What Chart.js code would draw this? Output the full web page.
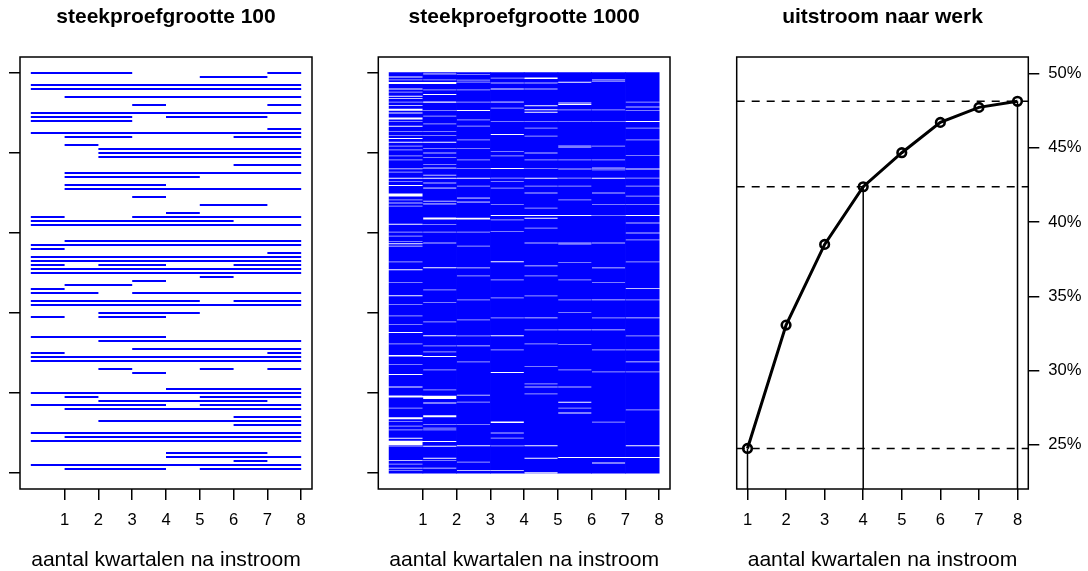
<!DOCTYPE html>
<html><head><meta charset="utf-8">
<script src="https://cdn.jsdelivr.net/npm/chart.js@4.4.1/dist/chart.umd.min.js"></script>
<style>
body{margin:0;background:#fff}
#wrap{position:relative;width:1088px;height:571px;background:#fff}
canvas{position:absolute;left:0;top:0}
</style></head>
<body><div id="wrap">
<canvas id="c1" width="1088" height="571"></canvas>
<canvas id="c2" width="1088" height="571"></canvas>
<canvas id="c3" width="1088" height="571"></canvas>
</div>
<script>
// ---------------- DATA ----------------
const quarters = [1,2,3,4,5,6,7,8];
const xTitle = 'aantal kwartalen na instroom';
const titles = ['steekproefgrootte 100','steekproefgrootte 1000','uitstroom naar werk'];
const rowTicks100 = [0,20,40,60,80,100];
const rowTicks1000 = [0,200,400,600,800,1000];
const pctTicks = [25,30,35,40,45,50];

// panel 1: 100 sampled persons, row 1 (bottom) .. row 100 (top); '1' = at work in that quarter
const sample100 = [
 "01110111","11111111","00000010","00001111","00001110","00000000","00000000","11111111","01111111","11111111",
 "00000000","00000011","00111111","00000011","00000000","01111111","11110111","00111110","01000111","11111111",
 "00001111","00000000","00000000","00000000","00010000","00100101","00000000","11111111","11111111","10000001",
 "00011111","00000000","00111111","11110000","00000000","00000000","00000000","00000000","10110000","00111000",
 "00000000","11111111","11111011","00000000","11011111","10000000","01100000","00010000","00000100","11111111",
 "11111111","10110011","11111111","11111111","00000001","10000000","11111111","01111111","00000000","00000000",
 "00000000","11111111","11111100","10011111","00001000","00000000","00000110","00000000","00010000","00000000",
 "01111111","01110000","00000000","01111000","01111111","00000000","00000011","00000000","00111111","00111111",
 "00111111","01000000","00000000","01100011","11111111","00000001","00000000","11100000","11101110","11111111",
 "00000000","00010001","00000000","01111111","00000000","11111111","11111111","00000000","00000110","11100001"
];

// panel 2: 1000 persons (too dense to read row by row); per quarter the visible
// empty stretches (white) and thinly covered stretches (light) as [centre row, rows]
const whiteQ1 = [[990,2.5],[975,5],[960,2.5],[942,2.5],[936,2],[919,2],[908,5],[900,2.5],[886,5],[867,2.5],[836,2.5],[827,2.5],
  [737,2.5],[719,2.5],[695,7],[622,2.5],[573,2.5],[567,2],[508,2.5],[443,2.5],[351,2.5],[293,4],[246,2.5],
  [215,2.5],[191,5],[137,5],[87,2.5],[75,11],[31,2],[12,2]];
const lightQ1 = [[983,2],[952,2],[927,2],[879,2],[854,2],[844,2],[817,2],[808,2],[793,2],[783,2],[761,3],[752,2],[729,2],
  [683,2],[675,2],[667,2],[602,2],[592,2],[579,2],[528,2],[476,2],[421,2],[393,2],[371,2],[323,2],[271,2],
  [162,2],[129,2],[117,2],[108,2],[67,2],[22,2],[6,2]];
const whiteQ2 = [[975,5],[946,2.5],[927,3],[827,2.5],[737,2.5],[636,5],[513,2.5],[343,2.5],[291,2.5],
  [189,8],[175,2.5],[142,5],[79,2.5],[67,2.5],[37,2.5],[12,2]];
const lightQ2 = [[998,3],[983,2],[958,2],[906,2],[892,2],[873,2],[854,2],[844,2],[811,2],[800,2],[789,2],[771,2],[762,3],
  [744,3],[725,2],[712,3],[679,3],[673,3],[621,2],[602,2],[575,2],[458,2],[426,2],[378,2],[318,2],[303,2],[258,2],
  [208,2],[121,2],[112,2],[108,2],[31,2]];
const whiteQ3 = [[906,2.5],[737,2.5],[636,4],[513,2],[318,2],[68,2.5],[6,2]];
const lightQ3 = [[996,2],[982,2],[977,2],[958,2],[927,2],[883,2],[867,2],[833,2],[811,2],[783,2],[761,2],[717,2],[687,3],
  [677,3],[602,2],[567,2],[493,2],[433,2],[383,2],[343,2],[278,2],[194,3],[177,2],[121,2],[27,2]];
const whiteQ4 = [[960,2.5],[846,2.5],[761,2.5],[644,2.5],[528,2.5],[343,2.5],[251,2.5],[127,4],[6,2]];
const lightQ4 = [[987,2],[975,2],[927,3],[912,2],[879,2],[804,2],[793,2],[737,2],[729,2],[712,2],[671,2],[633,2],[604,2],
  [483,2],[438,2],[388,2],[308,2],[100,2],[87,2],[68,2]];
const whiteQ5 = [[987,4],[918,2.5],[908,2.5],[902,2.5],[737,2.5],[644,2.5],[637,2.5],[518,2],[388,2],[68,2.5],[37,2.5]];
const lightQ5 = [[975,2],[960,2],[879,2],[862,2],[842,2],[800,2],[783,2],[761,2],[717,2],[700,2],[662,2],[612,2],[575,2],
  [493,2],[443,2],[358,2],[323,2],[266,2],[223,2],[215,2],[198,2],[1,2]];
const whiteQ6 = [[977,2.5],[925,3],[921,2.5],[644,2.5],[358,2],[177,2.5],[150,2.5],[39,2.5]];
const lightQ6 = [[908,2],[879,2],[817,3],[814,2],[783,2],[760,2],[737,2],[717,2],[683,2],[575,3],[572,2],
  [526,2],[483,2],[433,2],[401,2],[321,2],[258,2],[215,2],[162,2]];
const whiteQ7 = [[737,2.5],[513,2],[433,2],[358,2],[39,2.5],[25,2.5]];
const lightQ7 = [[983,3],[979,2],[908,2],[879,2],[817,2],[783,2],[762,3],[758,2],[700,2],[671,2],[644,2],[575,3],
  [476,2],[388,2],[308,2],[253,2],[127,2]];
const whiteQ8 = [[879,2.5],[760,3],[644,2.5],[461,2],[388,2],[278,2],[68,2.5],[39,2.5]];
const lightQ8 = [[927,2],[915,2],[906,2],[862,2],[833,2],[794,2],[737,2],[717,2],[692,2],[671,2],[625,2],[600,2],[583,2],
  [528,2],[433,2],[343,2],[308,2],[253,2],[158,2]];
const white1000 = [whiteQ1,whiteQ2,whiteQ3,whiteQ4,whiteQ5,whiteQ6,whiteQ7,whiteQ8];
const light1000 = [lightQ1,lightQ2,lightQ3,lightQ4,lightQ5,lightQ6,lightQ7,lightQ8];
const rowsFirst = -1, rowsLast = 1002;

// panel 3: share that has flowed out to work (%) by quarter
const uitstroom = [24.76, 33.06, 38.49, 42.37, 44.66, 46.70, 47.71, 48.12];
const markedQuarters = [1, 4, 8];

// ---------------- STYLE ----------------
Chart.defaults.font.family = "'Liberation Sans', Arial, Helvetica, sans-serif";
Chart.defaults.color = '#000';
const BLUE = '#0000ff', LIGHTBLUE = '#8a8aff';
const TICK_FONT = {size:16.6};
const XT_FONT = {size:21.1, lineHeight:1};
const TITLE_FONT = {size:21, weight:'bold'};

const boxPlugin = {id:'box', afterDatasetsDraw(chart){
  const {ctx, chartArea:a} = chart;
  ctx.save(); ctx.strokeStyle='#000'; ctx.lineWidth=1.5;
  ctx.strokeRect(a.left, a.top, a.right-a.left, a.bottom-a.top); ctx.restore();
}};

function tickGrid(){ return {drawOnChartArea:false, drawTicks:true, tickLength:11, color:'#000', lineWidth:1.5, offset:false}; }
function setTicks(vals){ return s => { s.ticks = vals.map(v => ({value:v})); }; }

function xAxis(min, max){
  return {type:'linear', min, max, offset:false, afterBuildTicks:setTicks(quarters), afterFit:s=>{s.height=82;},
    grid:tickGrid(), border:{display:false},
    ticks:{font:TICK_FONT, padding:10.2, maxRotation:0, autoSkip:false},
    title:{display:true, text:xTitle, font:XT_FONT, padding:{top:0,bottom:0.6}}};
}
function titleOpt(t){ return {display:true, text:t, fullSize:false, font:TITLE_FONT, padding:{top:4.9,bottom:26.9}}; }
const basePlugins = t => ({legend:{display:false}, tooltip:{enabled:false}, title:titleOpt(t)});

// ---------------- PANEL 1 ----------------
const seg100 = [];
sample100.forEach((s, i) => {
  const row = i + 1;
  let q = 0;
  while (q < s.length) {
    if (s[q] === '1') {
      let e = q; while (e < s.length && s[e] === '1') e++;
      seg100.push({x:q, y:row}, {x:e, y:row}, {x:e, y:null});
      q = e;
    } else q++;
  }
});
new Chart(document.getElementById('c1'), {
  type:'scatter',
  data:{datasets:[{data:seg100, showLine:true, spanGaps:false, borderColor:BLUE, borderWidth:2, pointRadius:0}]},
  options:{responsive:false, animation:false, events:[],
    layout:{padding:{left:9, right:776, top:0, bottom:0}},
    plugins:basePlugins(titles[0]),
    scales:{x:xAxis(-0.32, 8.32),
      y:{type:'linear', min:-4, max:104, afterBuildTicks:setTicks(rowTicks100), afterFit:s=>{s.width=11;},
         grid:tickGrid(), border:{display:false}, ticks:{display:false}}}},
  plugins:[boxPlugin]
});

// ---------------- PANEL 2 ----------------
const bars1000 = [], lightBars = [];
quarters.forEach((q, qi) => {
  const x = q - 0.5;
  const all = white1000[qi].concat(light1000[qi]).map(([c,h]) => [c - h/2, c + h/2]).sort((a,b) => a[0]-b[0]);
  let lo = rowsFirst;
  all.forEach(([a,b]) => { if (a > lo) bars1000.push({x, y:[lo,a]}); lo = Math.max(lo,b); });
  bars1000.push({x, y:[lo, rowsLast]});
  light1000[qi].forEach(([c,h]) => lightBars.push({x, y:[c - h/2, c + h/2]}));
});
new Chart(document.getElementById('c2'), {
  type:'bar',
  data:{datasets:[
    {data:bars1000, backgroundColor:BLUE, borderWidth:0, barPercentage:1.02, categoryPercentage:1, inflateAmount:0, grouped:false},
    {data:lightBars, backgroundColor:LIGHTBLUE, borderWidth:0, barPercentage:1.02, categoryPercentage:1, inflateAmount:0, grouped:false}
  ]},
  options:{responsive:false, animation:false, events:[],
    layout:{padding:{left:367.3, right:418, top:0, bottom:0}},
    plugins:basePlugins(titles[1]),
    scales:{x:xAxis(-0.32, 8.32),
      y:{type:'linear', min:-40, max:1040, afterBuildTicks:setTicks(rowTicks1000), afterFit:s=>{s.width=11;},
         grid:tickGrid(), border:{display:false}, ticks:{display:false}}}},
  plugins:[boxPlugin]
});

// ---------------- PANEL 3 ----------------
const X3MIN = 0.72, X3MAX = 8.28, Y3MIN = 22.03, Y3MAX = 51.1;
const mainLine = quarters.map((q,i) => ({x:q, y:uitstroom[i]}));
const dashPts = [], vertPts = [];
markedQuarters.forEach(q => {
  const v = uitstroom[quarters.indexOf(q)];
  dashPts.push({x:X3MIN, y:v}, {x:X3MAX, y:v}, {x:X3MAX, y:null});
  vertPts.push({x:q, y:Y3MIN}, {x:q, y:v}, {x:q, y:null});
});
new Chart(document.getElementById('c3'), {
  type:'scatter',
  data:{datasets:[
    {data:mainLine, showLine:true, borderColor:'#000', borderWidth:3, pointRadius:4.3, pointBorderWidth:2.6,
     pointBorderColor:'#000', pointBackgroundColor:'rgba(0,0,0,0)'},
    {data:dashPts, showLine:true, spanGaps:false, borderColor:'#000', borderWidth:1.5, borderDash:[8,7], pointRadius:0},
    {data:vertPts, showLine:true, spanGaps:false, borderColor:'#000', borderWidth:1.5, pointRadius:0}
  ]},
  options:{responsive:false, animation:false, events:[],
    layout:{padding:{left:736.7, right:0, top:0, bottom:0}},
    plugins:basePlugins(titles[2]),
    scales:{x:xAxis(X3MIN, X3MAX),
      y:{type:'linear', position:'right', min:Y3MIN, max:Y3MAX, afterBuildTicks:setTicks(pctTicks), afterFit:s=>{s.width=59.7;},
         grid:tickGrid(), border:{display:false}, ticks:{font:TICK_FONT, padding:9, callback:v => v + '%'}}}},
  plugins:[boxPlugin]
});
</script>
</body></html>
